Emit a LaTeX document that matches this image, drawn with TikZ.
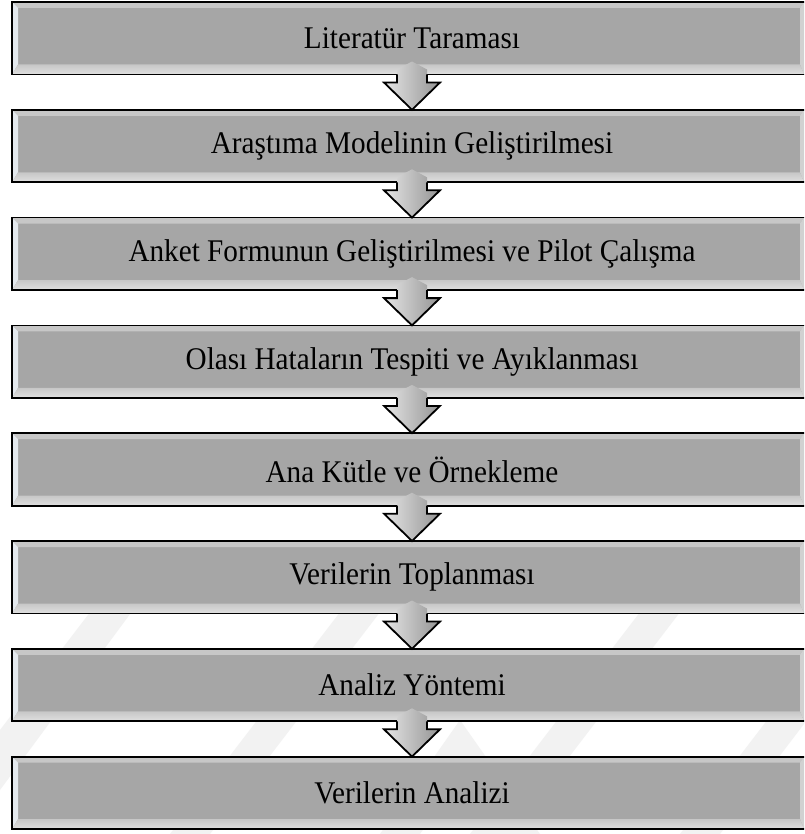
\documentclass[tikz,border=0pt]{standalone}
\usepackage{fontspec}
\setmainfont{Liberation Serif}
\definecolor{boxgray}{RGB}{166,166,166}
\definecolor{leftbevel}{RGB}{228,233,238}
\definecolor{wmark}{RGB}{242,242,242}
\tikzset{
  stage/.style={fill=boxgray, minimum width=792pt, minimum height=72.5pt,
    inner sep=0pt, outer sep=0pt, font=\fontsize{29.2}{32}\selectfont},
  stageborder/.style={draw=black, line width=1.8pt, line cap=rect},
  arrowfill/.style={left color=black!10, right color=black!42},
  arrowline/.style={draw=black, line width=1.8pt, line join=miter},
  wband/.style={fill=wmark},
}
\newcommand{\stagetext}[1]{\hspace*{8pt}\scalebox{1}[1.08]{#1}}
\newcommand{\bevelbox}[1]{%
  \fill[black!22] (#1.north west) -- (#1.north east)
    -- ([shift={(-4pt,-6pt)}]#1.north east) -- ([shift={(6pt,-6pt)}]#1.north west) -- cycle;
  \fill[leftbevel] (#1.north west) -- ([shift={(6pt,-6pt)}]#1.north west)
    -- ([shift={(6pt,10pt)}]#1.south west) -- (#1.south west) -- cycle;
  \fill[black!18] (#1.north east) -- ([shift={(-4pt,-6pt)}]#1.north east)
    -- ([shift={(-4pt,10pt)}]#1.south east) -- (#1.south east) -- cycle;
  \shade[top color=black!22, middle color=white, bottom color=black!12]
    (#1.south west) -- ([shift={(6pt,10pt)}]#1.south west)
    -- ([shift={(-4pt,10pt)}]#1.south east) -- (#1.south east) -- cycle;
  \draw[stageborder] ([xshift=2pt]#1.north east) -- (#1.north west) -- (#1.south west) -- ([xshift=2pt]#1.south east);
}
\newcommand{\flowarrow}[2]{%
  \coordinate (as) at ([xshift=4pt]#1.south);
  \coordinate (at) at ([xshift=4pt]#2.north);
  \shade[arrowfill] ([shift={(-15pt,5pt)}]as) -- ([yshift=13pt]as)
    -- ([shift={(15pt,5pt)}]as) -- ([shift={(15pt,-8pt)}]as)
    -- ([shift={(28pt,-8pt)}]as) -- (at) -- ([shift={(-28pt,-8pt)}]as)
    -- ([shift={(-15pt,-8pt)}]as) -- cycle;
  \draw[arrowline] ([xshift=-15pt]as) -- ([shift={(-15pt,-8pt)}]as)
    -- ([shift={(-28pt,-8pt)}]as) -- (at) -- ([shift={(28pt,-8pt)}]as)
    -- ([shift={(15pt,-8pt)}]as) -- ([xshift=15pt]as);
}
\begin{document}
\begin{tikzpicture}[x=1pt,y=1pt]
\useasboundingbox (0,0) rectangle (804,-834);
\clip (0,0) rectangle (804,-834);
\fill[white] (0,0) rectangle (804,-834);
% faint background watermark bands
\fill[wband] (170,-834) -- (210,-834) -- (420,-560) -- (380,-560) -- cycle;
\fill[wband] (470,-834) -- (510,-834) -- (720,-560) -- (680,-560) -- cycle;
\fill[wband] (0,-790) -- (0,-730) -- (130,-560) -- (170,-560) -- cycle;
\fill[wband] (680,-834) -- (720,-834) -- (804,-724) -- (804,-672) -- cycle;
\fill[wband] (380,-834) -- (420,-834) -- (460,-776) -- (500,-834) -- (540,-834) -- (460,-720) -- cycle;
\node[stage] (b1) at (408,-38.25) {\stagetext{Literatür Taraması}};
\node[stage] (b2) at (408,-146.05) {\stagetext{Araştıma Modelinin Geliştirilmesi}};
\node[stage] (b3) at (408,-253.85) {\stagetext{Anket Formunun Geliştirilmesi ve Pilot Çalışma}};
\node[stage] (b4) at (408,-361.65) {\stagetext{Olası Hataların Tespiti ve Ayıklanması}};
\node[stage] (b5) at (408,-469.45) {\stagetext{Ana Kütle ve Örnekleme}};
\node[stage] (b6) at (408,-577.25) {\stagetext{Verilerin Toplanması}};
\node[stage] (b7) at (408,-685.05) {\stagetext{Analiz Yöntemi}};
\node[stage] (b8) at (408,-792.85) {\stagetext{Verilerin Analizi}};
\foreach \b in {b1,b2,b3,b4,b5,b6,b7,b8} {\bevelbox{\b}}
\foreach \a/\b in {b1/b2,b2/b3,b3/b4,b4/b5,b5/b6,b6/b7,b7/b8} {\flowarrow{\a}{\b}}
\end{tikzpicture}
\end{document}
